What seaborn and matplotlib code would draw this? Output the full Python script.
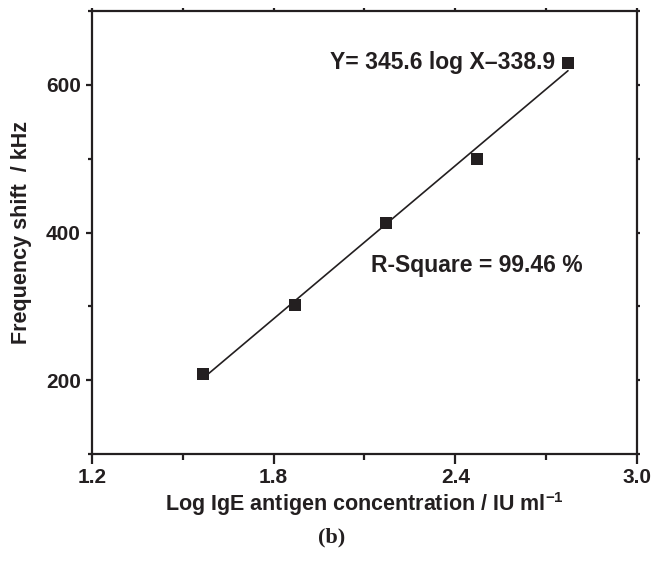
import matplotlib
matplotlib.use("Agg")
import matplotlib.pyplot as plt
import seaborn as sns
import numpy as np
import pandas as pd
from matplotlib.ticker import MultipleLocator

# data
log_conc = [1.568, 1.869, 2.170, 2.471, 2.772]
freq_shift = [209, 302, 413, 500, 630]
fit_slope = 345.6
fit_intercept = -338.9
x_ticks = [1.2, 1.8, 2.4, 3.0]
y_ticks = [200, 400, 600]
eq_label = "Y= 345.6 log X\u2013338.9"
r2_label = "R-Square = 99.46 %"

sns.set_theme(style="ticks")
plt.rcParams['font.family'] = ['Liberation Sans', 'DejaVu Sans']
plt.rcParams['font.weight'] = 'bold'
plt.rcParams['mathtext.fontset'] = 'custom'
plt.rcParams['mathtext.rm'] = 'Liberation Sans:bold'
plt.rcParams['mathtext.bf'] = 'Liberation Sans:bold'
plt.rcParams['mathtext.default'] = 'bf'

INK = '#231f20'

df = pd.DataFrame({"x": log_conc, "y": freq_shift})
fit_x = [log_conc[0], log_conc[-1]]
fit_df = pd.DataFrame({"x": fit_x, "y": [fit_slope * v + fit_intercept for v in fit_x]})

fig = plt.figure(figsize=(6.64, 5.68), dpi=100)
ax = fig.add_axes([92/664, 1-454/568, (637-92)/664, (454-11)/568])

sns.lineplot(data=fit_df, x="x", y="y", ax=ax, color=INK, linewidth=1.2)
sns.scatterplot(data=df, x="x", y="y", ax=ax, marker='s', s=75, color=INK,
                edgecolor=INK, linewidth=0, zorder=5)

ax.set_xlim(1.2, 3.0)
ax.set_ylim(100, 700)
ax.set_xticks(x_ticks)
ax.set_xticklabels([f"{v:.1f}" for v in x_ticks])
ax.set_yticks(y_ticks)
ax.set_yticklabels([str(v) for v in y_ticks])
ax.xaxis.set_minor_locator(MultipleLocator(0.3))
ax.yaxis.set_minor_locator(MultipleLocator(100))

for s in ax.spines.values():
    s.set_linewidth(1.6)
    s.set_color(INK)

ax.tick_params(axis='x', which='major', direction='out', length=7, width=1.6,
               labelsize=15, colors=INK, pad=3, top=True)
ax.tick_params(axis='x', which='minor', direction='out', length=4.5, width=1.6,
               colors=INK, top=True)
ax.tick_params(axis='y', which='major', direction='out', length=4, width=1.6,
               labelsize=15, colors=INK, pad=4, right=True)
ax.tick_params(axis='y', which='minor', direction='out', length=3, width=1.6,
               colors=INK, right=True)
for t in ax.xaxis.get_major_ticks() + ax.xaxis.get_minor_ticks():
    t.tick2line.set_markersize(2)
for t in ax.yaxis.get_major_ticks() + ax.yaxis.get_minor_ticks():
    t.tick2line.set_markersize(2)
for lbl in ax.get_xticklabels() + ax.get_yticklabels():
    lbl.set_fontweight('bold')

ax.set_xlabel("Log IgE antigen concentration / IU ml$^{-1}$",
              fontsize=15.5, fontweight='bold', color=INK, labelpad=2)
ax.set_ylabel("Frequency shift  / kHz", fontsize=15.5, fontweight='bold',
              color=INK, labelpad=10)

ax.text(1.985, 630, eq_label, fontsize=16.5, fontweight='bold',
        color=INK, va='center', ha='left')
ax.text(2.12, 355, r2_label, fontsize=16.5, fontweight='bold', color=INK,
        va='center', ha='left')

fig.text(0.5, 1-537/568, "(b)", fontsize=16, fontweight='bold', color=INK,
         family=['Liberation Serif', 'DejaVu Serif'], ha='center', va='center')

fig.savefig("out.png", dpi=100)
